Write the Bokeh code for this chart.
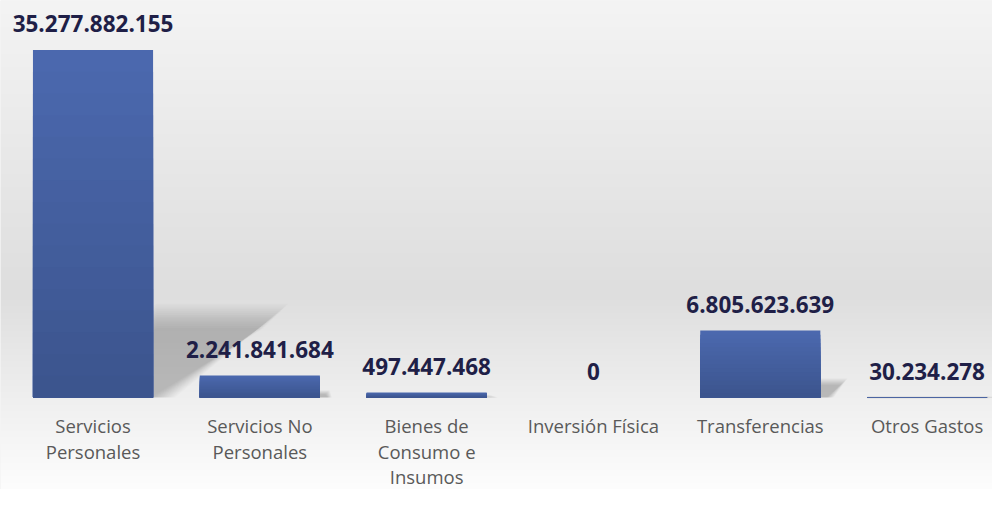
import numpy as np
from bokeh.plotting import figure
from bokeh.models import ColumnDataSource, Range1d
from bokeh.core.properties import value
from bokeh.embed import file_html
from bokeh.resources import INLINE

# ---- data ----
categories = ["Servicios\nPersonales", "Servicios No\nPersonales", "Bienes de\nConsumo e\nInsumos",
              "Inversión Física", "Transferencias", "Otros Gastos"]
amounts = [35277882155, 2241841684, 497447468, 0, 6805623639, 30234278]

xs = list(range(len(categories)))
labels = [f"{v:,}".replace(",", ".") for v in amounts]

W, H = 992, 489
x0, x1 = -0.5546, 5.392
y0, y1 = -9.34e9, 40.30e9
BAR_W = 0.72
px_x = W / (x1 - x0)          # pixels per x unit
val_px = (y1 - y0) / H         # value per pixel

p = figure(width=W, height=H, x_range=Range1d(x0, x1), y_range=Range1d(y0, y1),
           output_backend="svg", toolbar_location=None,
           x_axis_location=None, y_axis_location=None, min_border=0)
p.outline_line_color = None
p.grid.visible = False
p.background_fill_color = "#ebebeb"
p.border_fill_color = "#ebebeb"

# background vertical gradient (bottom row first)
stops_t = [0.0, 0.2, 0.4, 1.0]          # 0 = bottom, 1 = top
stops_c = [253, 238, 222, 244]
t = np.linspace(0, 1, H)
g = np.interp(t, stops_t, stops_c).astype(np.uint8)
img = np.zeros((H, 1), dtype=np.uint32)
view = img.view(dtype=np.uint8).reshape((H, 1, 4))
view[:, 0, 0] = g
view[:, 0, 1] = g
view[:, 0, 2] = g
view[:, 0, 3] = 255
p.image_rgba(image=[img], x=x0, y=y0, dw=x1 - x0, dh=y1 - y0, level="image")

# soft perspective shadows (style only, derived from bar values)
shadow_dx = 0.74 / max(amounts)    # horizontal shift (x units) per unit of value
shadow_dy = 0.235                  # shadow height relative to bar
L = 14
for j in range(L):
    f = -1 + 2 * j / (L - 1)        # -1 .. 1
    xs_list, ys_list = [], []
    for x, v in zip(xs, amounts):
        if v <= 0:
            continue
        xl, xr = x - BAR_W / 2, x + BAR_W / 2
        d = shadow_dx * v
        s = shadow_dy * v
        r_px = 0.13 * s / val_px + 1.5
        ex = f * r_px / px_x
        ey = f * r_px * val_px
        xs_list.append([xl, xr + 0.06 + ex, xr + d + ex, xl + d])
        ys_list.append([0, 0, s + ey, s + ey])
    p.patches(xs=xs_list, ys=ys_list, fill_color="black", fill_alpha=0.017, line_color=None)

# bars with vertical gradient (layered)
top_c = np.array([75, 105, 175])
bot_c = np.array([60, 84, 141])
N = 16
for k in range(N):
    frac = (N - k) / N
    rel = (N - k - 0.5) / N
    c = bot_c + (top_c - bot_c) * rel
    col = "#%02x%02x%02x" % tuple(int(round(v)) for v in c)
    src = ColumnDataSource(dict(x=xs, top=[a * frac for a in amounts]))
    p.vbar(x="x", top="top", bottom=0, width=BAR_W, source=src,
           fill_color=col, line_color=None)

# value labels
lab_src = ColumnDataSource(dict(x=xs, y=amounts, text=labels))
p.text(x="x", y="y", text="text", source=lab_src,
       text_font=value("Open Sans"), text_font_style="bold", text_font_size="22.5px",
       text_color="#1f1f47", text_align="center", text_baseline="alphabetic", y_offset=-26)

# category labels
cat_src = ColumnDataSource(dict(x=xs, y=[0] * len(xs), text=categories))
p.text(x="x", y="y", text="text", source=cat_src,
       text_font=value("Open Sans"), text_font_size="18.5px", text_color="#595959",
       text_align="center", text_baseline="top", text_line_height=1.02, y_offset=16)

open("out.html", "w").write(file_html(p, INLINE))
